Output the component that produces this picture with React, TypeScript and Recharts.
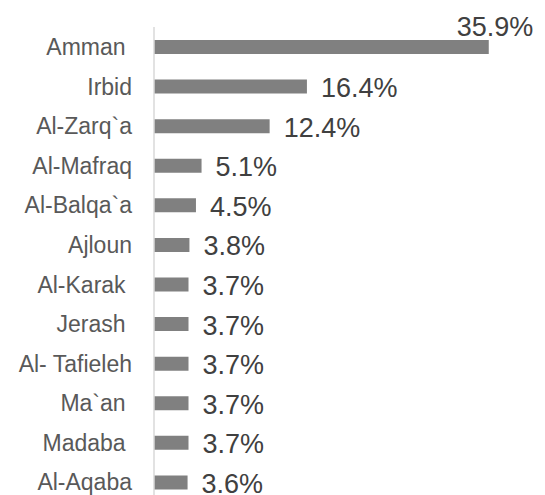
import { BarChart, Bar, XAxis, YAxis, LabelList } from "recharts";

// governorates, top to bottom (trailing spaces kept as in the original labels)
const cities = [
    "Amman ",
    "Irbid",
    "Al-Zarq`a",
    "Al-Mafraq",
    "Al-Balqa`a",
    "Ajloun",
    "Al-Karak ",
    "Jerash ",
    "Al- Tafieleh",
    "Ma`an ",
    "Madaba ",
    "Al-Aqaba",
];

// share of total, percent
const shares = [35.9, 16.4, 12.4, 5.1, 4.5, 3.8, 3.7, 3.7, 3.7, 3.7, 3.7, 3.6];

const xDomain = [0, 40];

const chartData = cities.map((city, i) => ({ city, share: shares[i] }));
const maxShare = Math.max(...shares);

const FONT = "'Liberation Sans', Arial, sans-serif";

const CityTick = ({ x, y, payload }: any) => (
    <text
        x={x}
        y={y}
        dy="0.36em"
        textAnchor="end"
        fill="#595959"
        fontSize={23}
        fontFamily={FONT}
        style={{ whiteSpace: "pre" }}
    >
        {payload.value}
    </text>
);

const ShareLabel = (props: any) => {
    const { x, y, width, height, value } = props;
    const end = Number(x) + Number(width);
    // the biggest bar has its label lifted above the bar end
    if (value === maxShare) {
        return (
            <text x={end - 32} y={Number(y) - 4.5} fill="#404040" fontSize={27} fontFamily={FONT}>
                {value.toFixed(1)}%
            </text>
        );
    }
    return (
        <text x={end + 14} y={Number(y) + Number(height) / 2} dy={10.5} fill="#404040" fontSize={27} fontFamily={FONT}>
            {Number(value).toFixed(1)}%
        </text>
    );
};

export default function App() {
    return (
        <div style={{ position: "absolute", left: 0, top: 0, width: 545, height: 495, overflow: "hidden", background: "#fff" }}>
            <BarChart
                width={545}
                height={520}
                data={chartData}
                layout="vertical"
                margin={{ top: 27, right: 18, left: 0, bottom: 18 }}
            >
                <XAxis type="number" domain={xDomain} hide />
                <YAxis
                    type="category"
                    dataKey="city"
                    width={154}
                    axisLine={{ stroke: "#d9d9d9", strokeWidth: 1.5 }}
                    tickLine={false}
                    tickSize={0}
                    tickMargin={22}
                    interval={0}
                    tick={<CityTick />}
                />
                <Bar dataKey="share" fill="#808080" barSize={14} isAnimationActive={false}>
                    <LabelList dataKey="share" content={<ShareLabel />} />
                </Bar>
            </BarChart>
        </div>
    );
}
